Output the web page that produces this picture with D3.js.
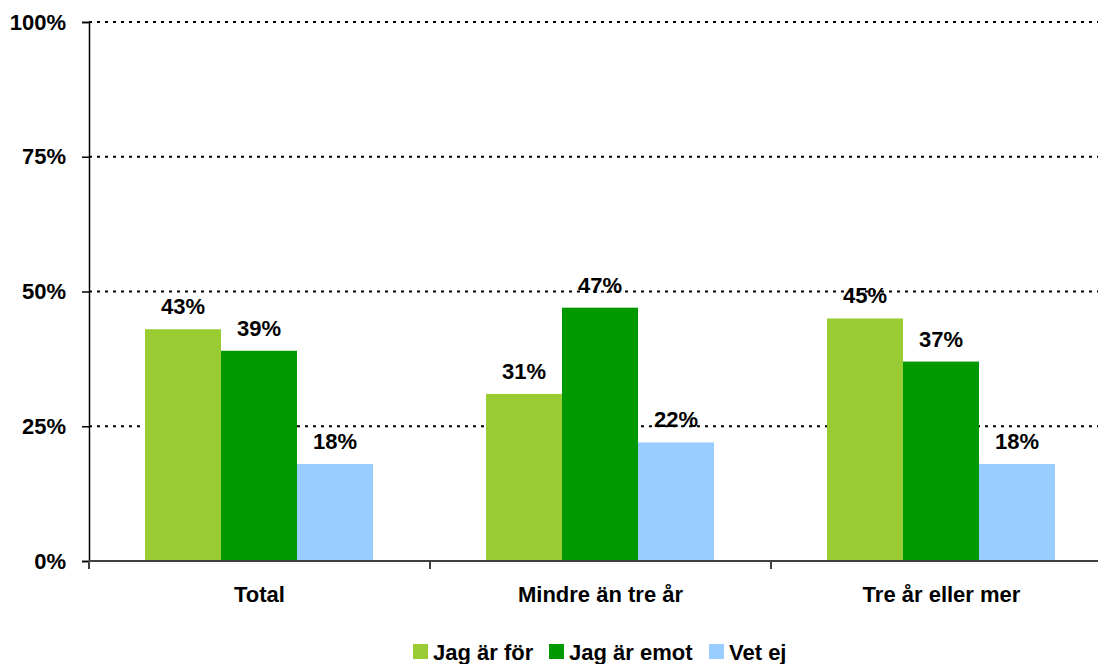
<!DOCTYPE html>
<html>
<head>
<meta charset="utf-8">
<script src="https://cdn.jsdelivr.net/npm/d3@7"></script>
<style>
  body { margin: 0; background: #fff; }
  text { font-family: Arial, "Liberation Sans", sans-serif; font-weight: bold; fill: #000; }
</style>
</head>
<body>
<script>
//chart data
var categories = ["Total", "Mindre än tre år", "Tre år eller mer"];
var seriesNames = ["Jag är för", "Jag är emot", "Vet ej"];
var forValues = [43, 31, 45];
var emotValues = [39, 47, 37];
var vetEjValues = [18, 22, 18];
var yTicks = [0, 25, 50, 75, 100];
var colors = ["#99CC33", "#009900", "#99CCFF"];

var series = [forValues, emotValues, vetEjValues];

//frame
var width = 1105,
    height = 664;
var plotLeft = 89, plotRight = 1098, plotTop = 22, plotBottom = 561;

var svg = d3.select("body")
    .append("svg")
    .attr("width", width)
    .attr("height", height);

var x = d3.scaleBand()
    .domain(categories)
    .range([plotLeft, plotLeft + 3 * 341]);

var inner = d3.scaleBand()
    .domain(d3.range(seriesNames.length))
    .range([56, 56 + 228]);

var y = d3.scaleLinear()
    .domain([0, 100])
    .range([plotBottom, plotTop]);

//dotted gridlines
svg.selectAll(".grid")
    .data(yTicks.filter(function(d){ return d > 0; }))
    .enter()
    .append("line")
    .attr("x1", plotLeft)
    .attr("x2", plotRight)
    .attr("y1", function(d){ return y(d); })
    .attr("y2", function(d){ return y(d); })
    .attr("stroke", "#000")
    .attr("stroke-width", 2)
    .attr("stroke-dasharray", "3,5");

//bars and value labels
categories.forEach(function(cat, ci){
    series.forEach(function(vals, si){
        var v = vals[ci];
        svg.append("rect")
            .attr("x", x(cat) + inner(si))
            .attr("y", y(v))
            .attr("width", inner.bandwidth())
            .attr("height", plotBottom - y(v))
            .attr("fill", colors[si]);
        svg.append("text")
            .attr("x", x(cat) + inner(si) + inner.bandwidth() / 2)
            .attr("y", y(v) - 15)
            .attr("text-anchor", "middle")
            .style("font-size", "22px")
            .text(v + "%");
    });
});

//y axis
var yAxis = svg.append("g")
    .attr("transform", "translate(" + plotLeft + ",0)")
    .call(d3.axisLeft(y).tickValues(yTicks).tickSize(7).tickPadding(16)
        .tickFormat(function(d){ return d + "%"; }));
yAxis.select(".domain").attr("stroke", "#000").attr("stroke-width", 1.5);
yAxis.selectAll(".tick line").attr("stroke", "#000").attr("stroke-width", 1.5);
yAxis.selectAll("text").style("font-size", "22px");

//x axis
var xAxis = svg.append("g")
    .attr("transform", "translate(0," + plotBottom + ")")
    .call(d3.axisBottom(x).tickSize(0).tickPadding(25));
xAxis.select(".domain").attr("d", "M" + plotLeft + ",0H" + plotRight).attr("stroke", "#404040").attr("stroke-width", 2);
xAxis.selectAll("text").style("font-size", "22px");

//category separators
svg.selectAll(".sep")
    .data(categories)
    .enter()
    .append("line")
    .attr("x1", function(d){ return x(d); })
    .attr("x2", function(d){ return x(d); })
    .attr("y1", plotBottom)
    .attr("y2", plotBottom + 8)
    .attr("stroke", "#404040")
    .attr("stroke-width", 2);

//legend
var legendX = [413, 549, 709];
var legend = svg.selectAll(".legend")
    .data(seriesNames)
    .enter()
    .append("g")
    .attr("transform", function(d, i){ return "translate(" + legendX[i] + ",644)"; });
legend.append("rect")
    .attr("width", 15)
    .attr("height", 15)
    .attr("fill", function(d, i){ return colors[i]; });
legend.append("text")
    .attr("x", 20)
    .attr("y", 16)
    .style("font-size", "22px")
    .text(function(d){ return d; });
</script>
</body>
</html>
